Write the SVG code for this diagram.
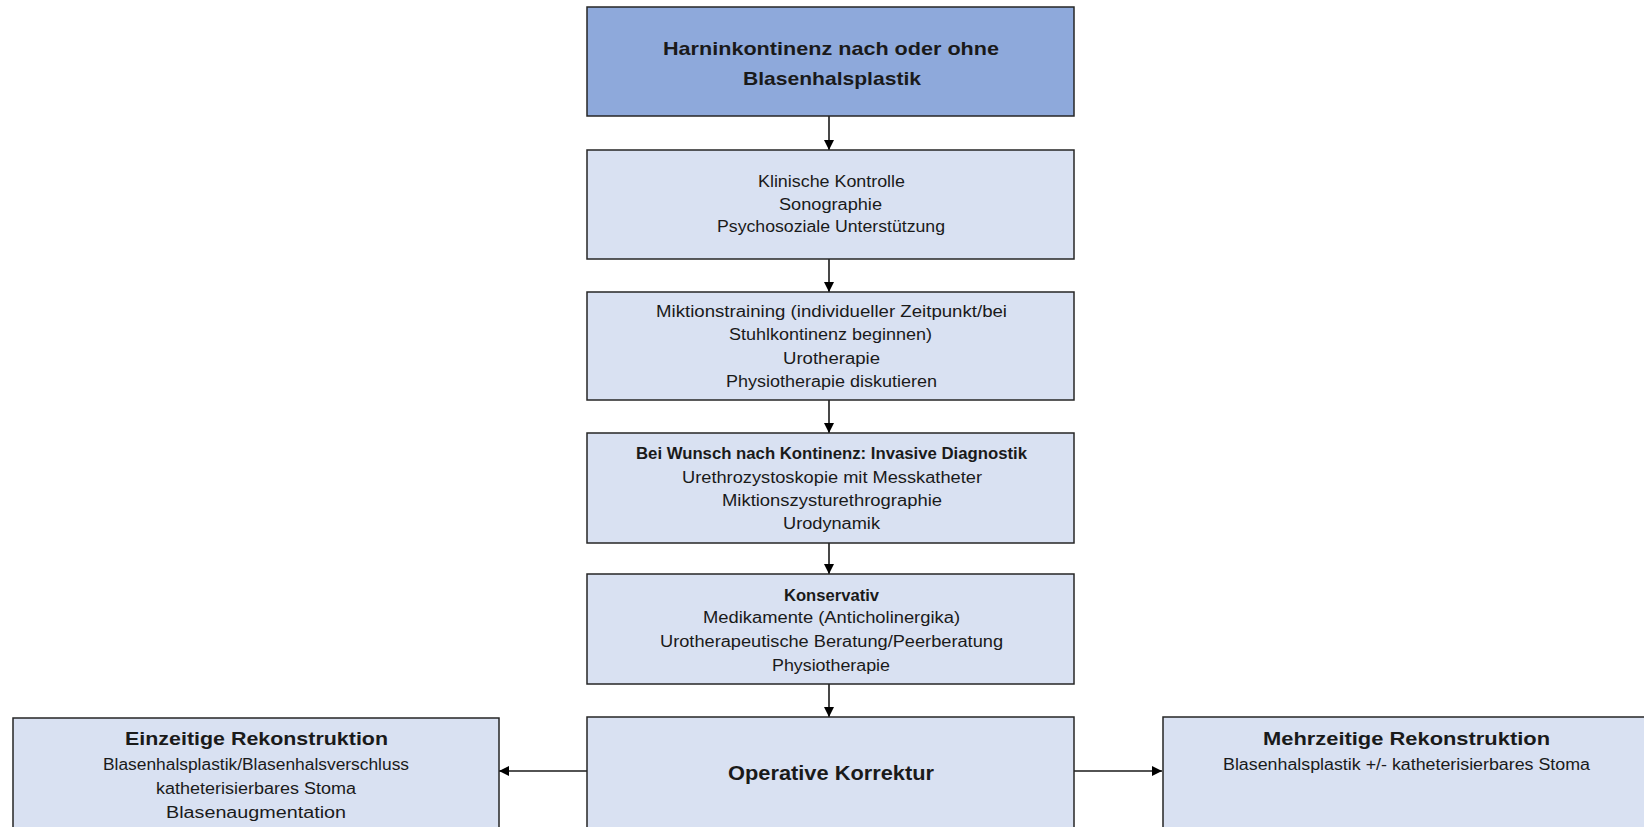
<svg xmlns="http://www.w3.org/2000/svg" width="1644" height="827" viewBox="0 0 1644 827">
<style>
.box{fill:#D9E1F2;stroke:#262626;stroke-width:1.5}
.top{fill:#8EA9DB;stroke:#262626;stroke-width:1.5}
text{font-family:"Liberation Sans",Arial,sans-serif;fill:#1a1a1a;text-anchor:middle}
.r{font-size:16px}
.b{font-weight:bold}
.conn{stroke:#1a1a1a;stroke-width:1.6;fill:none;marker-end:url(#ah)}
</style>
<defs>
<marker id="ah" viewBox="0 0 10 10" refX="10" refY="5" markerWidth="6.5" markerHeight="6.5" orient="auto" markerUnits="strokeWidth">
<path d="M0,0 L10,5 L0,10 z" fill="#000"/>
</marker>
</defs>
<rect width="1644" height="827" fill="#fff"/>
<g id="connectors">
<line class="conn" x1="829" y1="116" x2="829" y2="150"/>
<line class="conn" x1="829" y1="259" x2="829" y2="292"/>
<line class="conn" x1="829" y1="400" x2="829" y2="433"/>
<line class="conn" x1="829" y1="543" x2="829" y2="574"/>
<line class="conn" x1="829" y1="684" x2="829" y2="717"/>
<line class="conn" x1="587" y1="771" x2="499" y2="771"/>
<line class="conn" x1="1074" y1="771" x2="1162" y2="771"/>
</g>
<g id="n1">
<rect class="top" x="587" y="7" width="487" height="109"/>
<text class="b" font-size="19" x="831" y="55" textLength="336" lengthAdjust="spacingAndGlyphs">Harninkontinenz nach oder ohne</text>
<text class="b" font-size="19" x="832" y="85" textLength="178" lengthAdjust="spacingAndGlyphs">Blasenhalsplastik</text>
</g>
<g id="n2">
<rect class="box" x="587" y="150" width="487" height="109"/>
<text class="r" x="831.5" y="187" textLength="147" lengthAdjust="spacingAndGlyphs">Klinische Kontrolle</text>
<text class="r" x="830.5" y="210" textLength="103" lengthAdjust="spacingAndGlyphs">Sonographie</text>
<text class="r" x="831" y="232" textLength="228" lengthAdjust="spacingAndGlyphs">Psychosoziale Unterstützung</text>
</g>
<g id="n3">
<rect class="box" x="587" y="292" width="487" height="108"/>
<text class="r" x="831.5" y="317" textLength="351" lengthAdjust="spacingAndGlyphs">Miktionstraining (individueller Zeitpunkt/bei</text>
<text class="r" x="830.5" y="340" textLength="203" lengthAdjust="spacingAndGlyphs">Stuhlkontinenz beginnen)</text>
<text class="r" x="831.5" y="364" textLength="97" lengthAdjust="spacingAndGlyphs">Urotherapie</text>
<text class="r" x="831.5" y="387" textLength="211" lengthAdjust="spacingAndGlyphs">Physiotherapie diskutieren</text>
</g>
<g id="n4">
<rect class="box" x="587" y="433" width="487" height="110"/>
<text class="r b" font-size="15.5" x="831.5" y="459" textLength="391" lengthAdjust="spacingAndGlyphs">Bei Wunsch nach Kontinenz: Invasive Diagnostik</text>
<text class="r" x="832" y="483" textLength="300" lengthAdjust="spacingAndGlyphs">Urethrozystoskopie mit Messkatheter</text>
<text class="r" x="832" y="506" textLength="220" lengthAdjust="spacingAndGlyphs">Miktionszysturethrographie</text>
<text class="r" x="831.5" y="529" textLength="97" lengthAdjust="spacingAndGlyphs">Urodynamik</text>
</g>
<g id="n5">
<rect class="box" x="587" y="574" width="487" height="110"/>
<text class="r b" font-size="15.5" x="831.5" y="601" textLength="95" lengthAdjust="spacingAndGlyphs">Konservativ</text>
<text class="r" x="831.5" y="623" textLength="257" lengthAdjust="spacingAndGlyphs">Medikamente (Anticholinergika)</text>
<text class="r" x="831.5" y="647" textLength="343" lengthAdjust="spacingAndGlyphs">Urotherapeutische Beratung/Peerberatung</text>
<text class="r" x="831" y="671" textLength="118" lengthAdjust="spacingAndGlyphs">Physiotherapie</text>
</g>
<g id="n6">
<rect class="box" x="587" y="717" width="487" height="115"/>
<text class="b" font-size="21" x="831" y="780" textLength="206" lengthAdjust="spacingAndGlyphs">Operative Korrektur</text>
</g>
<g id="n7">
<rect class="box" x="13" y="718" width="486" height="114"/>
<text class="b" font-size="18" x="256.5" y="745" textLength="263" lengthAdjust="spacingAndGlyphs">Einzeitige Rekonstruktion</text>
<text class="r" x="256" y="770" textLength="306" lengthAdjust="spacingAndGlyphs">Blasenhalsplastik/Blasenhalsverschluss</text>
<text class="r" x="256" y="794" textLength="200" lengthAdjust="spacingAndGlyphs">katheterisierbares Stoma</text>
<text class="r" x="256" y="818" textLength="180" lengthAdjust="spacingAndGlyphs">Blasenaugmentation</text>
</g>
<g id="n8">
<rect class="box" x="1163" y="717" width="500" height="115"/>
<text class="b" font-size="18" x="1406.5" y="745" textLength="287" lengthAdjust="spacingAndGlyphs">Mehrzeitige Rekonstruktion</text>
<text class="r" x="1406.5" y="770" textLength="367" lengthAdjust="spacingAndGlyphs">Blasenhalsplastik +/- katheterisierbares Stoma</text>
</g>
</svg>
